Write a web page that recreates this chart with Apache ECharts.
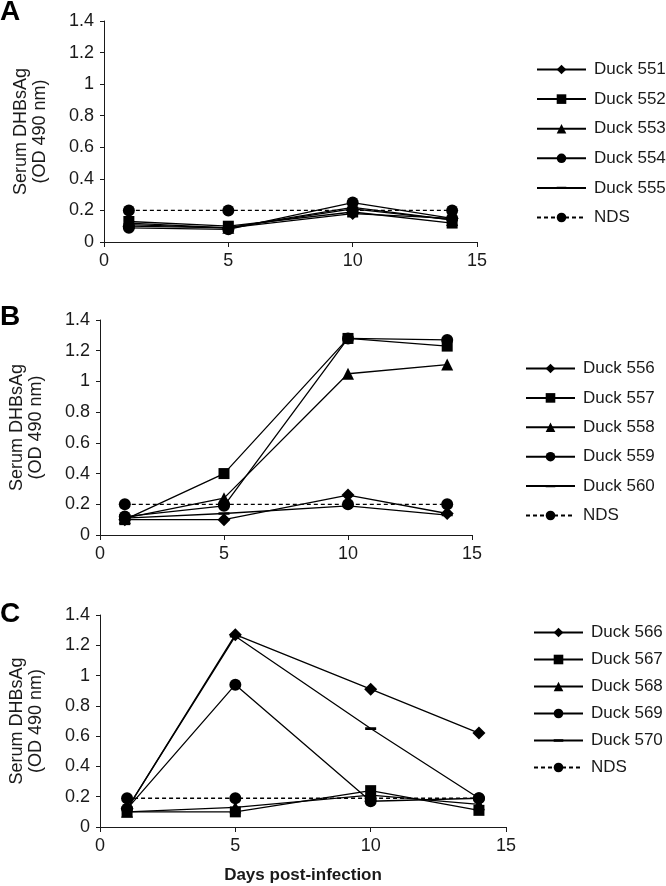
<!DOCTYPE html>
<html>
<head>
<meta charset="utf-8">
<script src="https://cdn.jsdelivr.net/npm/echarts@6/dist/echarts.min.js"></script>
<style>html,body{margin:0;padding:0;background:#fff}#c{width:666px;height:886px}</style>
</head>
<body>
<div id="c"></div>
<script>
var days = [1, 5, 10, 14];
var xTicks = [0, 5, 10, 15];
var yTicks = [0, 0.2, 0.4, 0.6, 0.8, 1, 1.2, 1.4];

var namesA = ['Duck 551', 'Duck 552', 'Duck 553', 'Duck 554', 'Duck 555', 'NDS'];
var a551 = [0.10, 0.09, 0.18, 0.15];
var a552 = [0.13, 0.10, 0.19, 0.12];
var a553 = [0.12, 0.09, 0.22, 0.14];
var a554 = [0.09, 0.08, 0.25, 0.15];
var a555 = [0.11, 0.09, 0.21, 0.14];
var aNDS = [0.20, 0.20, 0.20, 0.20];

var namesB = ['Duck 556', 'Duck 557', 'Duck 558', 'Duck 559', 'Duck 560', 'NDS'];
var b556 = [0.10, 0.10, 0.26, 0.14];
var b557 = [0.10, 0.40, 1.28, 1.23];
var b558 = [0.11, 0.24, 1.05, 1.11];
var b559 = [0.12, 0.19, 1.28, 1.27];
var b560 = [0.11, 0.14, 0.19, 0.13];
var bNDS = [0.20, 0.20, 0.20, 0.20];

var namesC = ['Duck 566', 'Duck 567', 'Duck 568', 'Duck 569', 'Duck 570', 'NDS'];
var c566 = [0.12, 1.27, 0.91, 0.62];
var c567 = [0.10, 0.10, 0.24, 0.11];
var c568 = [0.10, 0.13, 0.21, 0.15];
var c569 = [0.12, 0.94, 0.17, 0.19];
var c570 = [0.12, 1.26, 0.65, 0.19];
var cNDS = [0.19, 0.19, 0.19, 0.19];

var panels = [
  {names: namesA, vals: [a551, a552, a553, a554, a555, aNDS]},
  {names: namesB, vals: [b556, b557, b558, b559, b560, bNDS]},
  {names: namesC, vals: [c566, c567, c568, c569, c570, cNDS]}
];

var FONT = '"Liberation Sans", Arial, sans-serif';
var INK = '#1a1a1a';
var DASH = 'path://M0 3.8H10V6.2H0Z M0 0h0.01v0.01H0Z M9.99 9.99h0.01v0.01h-0.01Z';
var symbols = ['diamond', 'rect', 'triangle', 'circle', DASH, 'circle'];
var sizes = [13, 11, 12, 12, 11, 12];

var grids = [
  {left: 104, top: 21, width: 373, height: 221},
  {left: 97, top: 320, width: 375, height: 215},
  {left: 97, top: 615, width: 409, height: 212}
];
var legendPos = [
  {left: 536, top: 61, itemGap: 12.6},
  {left: 525, top: 360, itemGap: 12.4},
  {left: 533, top: 624, itemGap: 10}
];
var letters = [
  {text: 'A', top: -2},
  {text: 'B', top: 303},
  {text: 'C', top: 600}
];

var xAxes = [], yAxes = [], series = [], legends = [], titles = [];
panels.forEach(function (p, i) {
  xAxes.push({
    type: 'value', gridIndex: i, min: xTicks[0], max: xTicks[xTicks.length - 1], interval: 5,
    axisLine: {lineStyle: {color: INK, width: 1}},
    axisTick: {length: 5, lineStyle: {color: INK}},
    axisLabel: {color: INK, fontSize: 18, fontFamily: FONT, margin: 10},
    splitLine: {show: false},
    name: i === 2 ? 'Days post-infection' : '',
    nameLocation: 'middle', nameGap: 40,
    nameTextStyle: {color: INK, fontSize: 17, fontWeight: 'bold', fontFamily: FONT}
  });
  yAxes.push({
    type: 'value', gridIndex: i, min: yTicks[0], max: yTicks[yTicks.length - 1], interval: 0.2,
    axisLine: {show: true, lineStyle: {color: INK, width: 1}},
    axisTick: {show: true, length: 4, lineStyle: {color: INK}},
    axisLabel: {color: INK, fontSize: 18, fontFamily: FONT, margin: 10},
    splitLine: {show: false},
    name: 'Serum DHBsAg\n(OD 490 nm)',
    nameLocation: 'middle', nameRotate: 90, nameGap: 54,
    nameTextStyle: {color: INK, fontSize: 18, fontFamily: FONT, lineHeight: 19}
  });
  p.names.forEach(function (nm, j) {
    series.push({
      type: 'line', name: nm, xAxisIndex: i, yAxisIndex: i,
      data: days.map(function (d, k) { return [d, p.vals[j][k]]; }),
      symbol: symbols[j], symbolSize: sizes[j],
      showAllSymbol: true,
      lineStyle: {color: '#000', width: 1.3, type: nm === 'NDS' ? [4, 3] : 'solid'},
      itemStyle: {color: '#000', borderWidth: 0},
      emphasis: {disabled: true},
      animation: false, z: nm === 'NDS' ? 1 : 2
    });
  });
  legends.push({
    data: p.names, orient: 'vertical', left: legendPos[i].left, top: legendPos[i].top,
    itemGap: legendPos[i].itemGap, itemWidth: 49, itemHeight: 12, padding: 0,
    selectedMode: false,
    textStyle: {color: INK, fontSize: 17, fontFamily: FONT, padding: [0, 0, 0, 3]}
  });
  titles.push({
    text: letters[i].text, left: 0, top: letters[i].top, padding: 0,
    textStyle: {color: '#000', fontSize: 28, fontWeight: 'bold', fontFamily: FONT}
  });
});

var chart = echarts.init(document.getElementById('c'), null, {renderer: 'canvas'});
chart.setOption({
  backgroundColor: '#fff',
  animation: false,
  title: titles,
  grid: grids,
  xAxis: xAxes,
  yAxis: yAxes,
  legend: legends,
  series: series
});
</script>
</body>
</html>
